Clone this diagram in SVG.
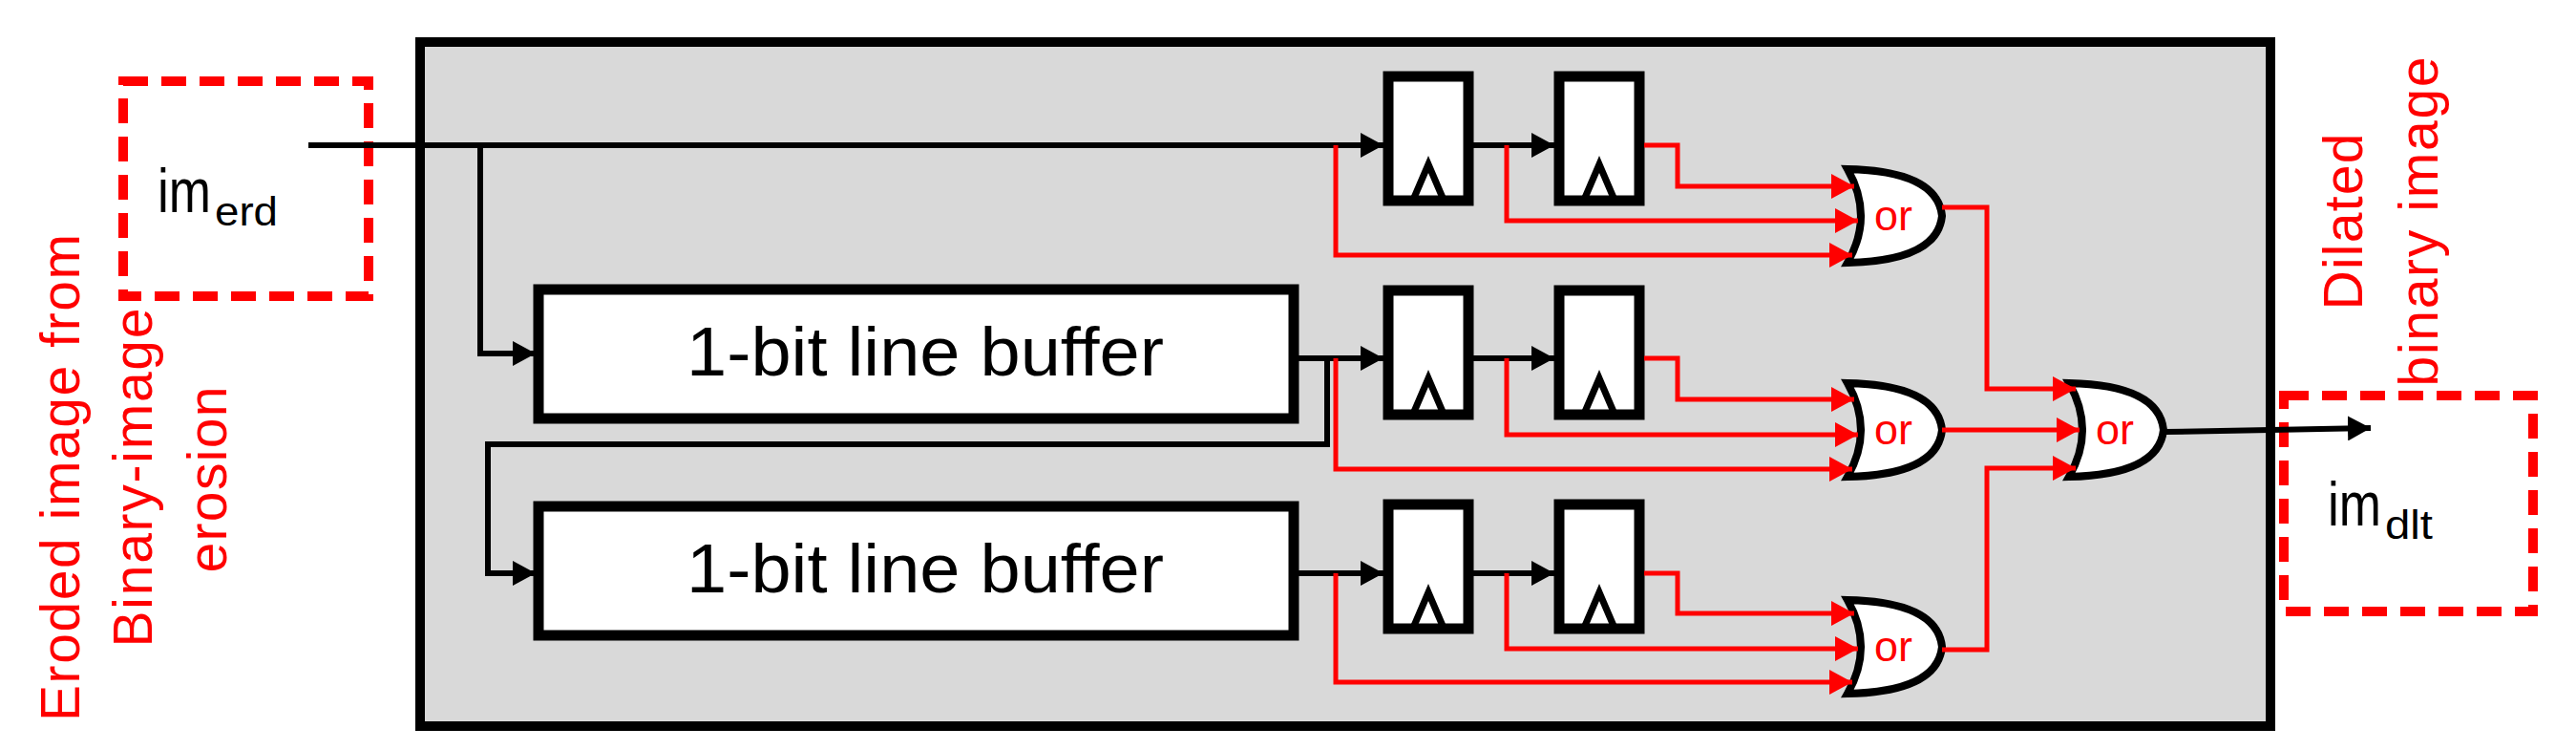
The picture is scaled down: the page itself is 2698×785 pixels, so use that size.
<svg xmlns="http://www.w3.org/2000/svg" width="2698" height="785" viewBox="0 0 2698 785">
<style>
.k{fill:none;stroke:#000;stroke-width:6}
.r{fill:none;stroke:#ff0000;stroke-width:5}
.reg{fill:#fff;stroke:#000;stroke-width:11}
.buf{fill:#fff;stroke:#000;stroke-width:11}
.clk{fill:none;stroke:#000;stroke-width:7}
.gate{fill:#fff;stroke:#000;stroke-width:8}
.dash{fill:none;stroke:#ff0000;stroke-width:10;stroke-dasharray:26 14}
.lbl{font-family:"Liberation Sans",Arial,sans-serif;fill:#ff0000;font-size:57px;text-anchor:middle}
.t{font-family:"Liberation Sans",Arial,sans-serif;fill:#000}
.or{font-family:"Liberation Sans",Arial,sans-serif;fill:#ff0000;font-size:44px}
</style>
<defs>
<marker id="ak" markerUnits="userSpaceOnUse" markerWidth="26" markerHeight="26" refX="24" refY="13" orient="auto"><path d="M0,0 L24,13 L0,26 Z" fill="#000"/></marker>
<marker id="ar" markerUnits="userSpaceOnUse" markerWidth="26" markerHeight="26" refX="24" refY="13" orient="auto"><path d="M0,0 L24,13 L0,26 Z" fill="#ff0000"/></marker>
<path id="g" d="M0,0 Q28,49 0,98 Q94,96 99,49 Q94,2 0,0 Z"/>
</defs>
<rect x="440" y="44" width="1938" height="716" fill="#d9d9d9" stroke="#000" stroke-width="10"/>
<g id="in-box"><rect x="129" y="85" width="257" height="225" class="dash"/>
<text class="t" x="165" y="222" font-size="64" textLength="56" lengthAdjust="spacingAndGlyphs">im</text><text class="t" x="225" y="236" font-size="42" textLength="66" lengthAdjust="spacingAndGlyphs">erd</text></g>
<g id="out-box"><rect x="2392" y="414" width="261" height="226" class="dash"/>
<text class="t" x="2438" y="550" font-size="64" textLength="56" lengthAdjust="spacingAndGlyphs">im</text><text class="t" x="2498" y="564" font-size="42" textLength="50" lengthAdjust="spacingAndGlyphs">dlt</text></g>
<g id="labels">
<text class="lbl" transform="translate(83,500) rotate(-90)" textLength="510">Eroded image from</text>
<text class="lbl" transform="translate(159,500) rotate(-90)" textLength="355">Binary-image</text>
<text class="lbl" transform="translate(237,502) rotate(-90)" textLength="195">erosion</text>
<text class="lbl" transform="translate(2474,232) rotate(-90)" textLength="185">Dilated</text>
<text class="lbl" transform="translate(2553,232) rotate(-90)" textLength="345">binary image</text>
</g>
<g id="buf1"><rect x="564" y="303" width="791" height="135" class="buf"/><text class="t" x="969" y="393" font-size="72" text-anchor="middle" textLength="500" lengthAdjust="spacingAndGlyphs">1-bit line buffer</text></g>
<g id="buf2"><rect x="564" y="530" width="791" height="135" class="buf"/><text class="t" x="969" y="620" font-size="72" text-anchor="middle" textLength="500" lengthAdjust="spacingAndGlyphs">1-bit line buffer</text></g>
<g id="regs">
<rect x="1454" y="80" width="84" height="130" class="reg"/><path d="M1481,207 L1496,172 L1511,207" class="clk"/>
<rect x="1633" y="80" width="84" height="130" class="reg"/><path d="M1660,207 L1675,172 L1690,207" class="clk"/>
<rect x="1454" y="304" width="84" height="130" class="reg"/><path d="M1481,431 L1496,396 L1511,431" class="clk"/>
<rect x="1633" y="304" width="84" height="130" class="reg"/><path d="M1660,431 L1675,396 L1690,431" class="clk"/>
<rect x="1454" y="528" width="84" height="130" class="reg"/><path d="M1481,655 L1496,620 L1511,655" class="clk"/>
<rect x="1633" y="528" width="84" height="130" class="reg"/><path d="M1660,655 L1675,620 L1690,655" class="clk"/>
</g>
<g id="gates">
<use href="#g" class="gate" x="1935" y="177"/><text class="or" x="1963" y="241" textLength="40" lengthAdjust="spacingAndGlyphs">or</text>
<use href="#g" class="gate" x="1935" y="401"/><text class="or" x="1963" y="465" textLength="40" lengthAdjust="spacingAndGlyphs">or</text>
<use href="#g" class="gate" x="1935" y="628"/><text class="or" x="1963" y="692" textLength="40" lengthAdjust="spacingAndGlyphs">or</text>
<use href="#g" class="gate" x="2167" y="401"/><text class="or" x="2195" y="465" textLength="40" lengthAdjust="spacingAndGlyphs">or</text>
</g>
<g id="connectors">
<path d="M323,152 H1449" class="k" marker-end="url(#ak)"/>
<path d="M1541,152 H1628" class="k" marker-end="url(#ak)"/>
<path d="M503,152 V370 H561" class="k" marker-end="url(#ak)"/>
<path d="M1355,375 H1449" class="k" marker-end="url(#ak)"/>
<path d="M1541,375 H1628" class="k" marker-end="url(#ak)"/>
<path d="M1390,375 V465 H511 V600 H561" class="k" marker-end="url(#ak)"/>
<path d="M1355,600 H1449" class="k" marker-end="url(#ak)"/>
<path d="M1541,600 H1628" class="k" marker-end="url(#ak)"/>
<path d="M2268,452 L2483,448" class="k" marker-end="url(#ak)"/>
<path d="M1399,152 V267 H1940" class="r" marker-end="url(#ar)"/>
<path d="M1578,152 V231 H1946" class="r" marker-end="url(#ar)"/>
<path d="M1722,152 H1757 V195 H1942" class="r" marker-end="url(#ar)"/>
<path d="M1399,375 V491 H1940" class="r" marker-end="url(#ar)"/>
<path d="M1578,375 V455 H1946" class="r" marker-end="url(#ar)"/>
<path d="M1722,375 H1757 V418 H1942" class="r" marker-end="url(#ar)"/>
<path d="M1399,600 V714 H1940" class="r" marker-end="url(#ar)"/>
<path d="M1578,600 V679 H1946" class="r" marker-end="url(#ar)"/>
<path d="M1722,600 H1757 V642 H1942" class="r" marker-end="url(#ar)"/>
<path d="M2034,217 H2081 V407 H2174" class="r" marker-end="url(#ar)"/>
<path d="M2034,450 H2178" class="r" marker-end="url(#ar)"/>
<path d="M2034,680 H2081 V490 H2174" class="r" marker-end="url(#ar)"/>
</g>
</svg>
